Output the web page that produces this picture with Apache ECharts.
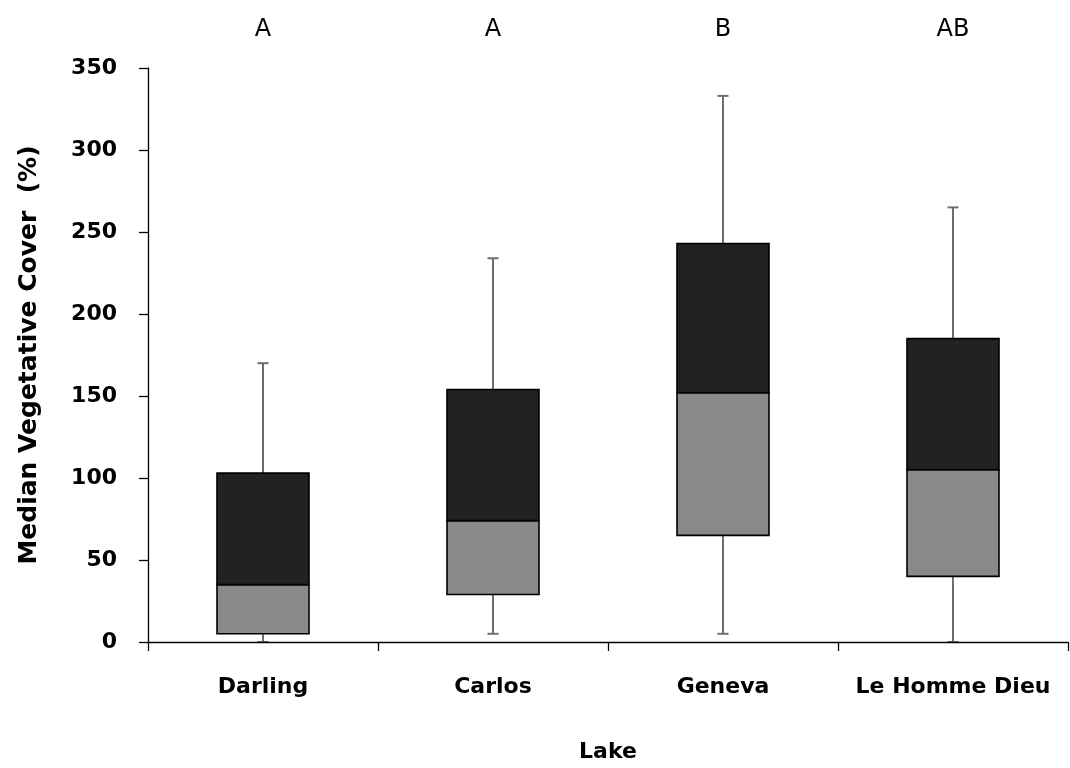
<!DOCTYPE html>
<html>
<head>
<meta charset="utf-8">
<script src="https://cdn.jsdelivr.net/npm/echarts@6/dist/echarts.min.js"></script>
<style>
html,body{margin:0;padding:0;background:#fff;}
#chart{width:1070px;height:768px;}
</style>
</head>
<body>
<div id="chart"></div>
<script>
const categories = ['Darling', 'Carlos', 'Geneva', 'Le Homme Dieu'];
const letters = ['A', 'A', 'B', 'AB'];
const minVals = [0, 5, 5, 0];
const q1Vals = [5, 29, 65, 40];
const medVals = [35, 74, 152, 105];
const q3Vals = [103, 154, 243, 185];
const maxVals = [170, 234, 333, 265];
const yTicks = [0, 50, 100, 150, 200, 250, 300, 350];

const FONT = 'DejaVu Sans';
const boxData = categories.map((c, i) => [i, minVals[i], q1Vals[i], medVals[i], q3Vals[i], maxVals[i]]);

const chart = echarts.init(document.getElementById('chart'), null, {renderer: 'canvas'});
chart.setOption({
  backgroundColor: '#ffffff',
  animation: false,
  grid: {left: 148, right: 2, top: 68, bottom: 121, containLabel: false},
  xAxis: [{
    type: 'category',
    data: categories,
    position: 'bottom',
    z: 5,
    boundaryGap: true,
    axisLine: {show: true, lineStyle: {color: '#000', width: 1.3}},
    axisTick: {show: true, interval: 0, length: 9, inside: false, lineStyle: {color: '#000', width: 1.3}},
    axisLabel: {interval: 0, margin: 34, color: '#000', fontFamily: FONT, fontWeight: 'bold', fontSize: 22},
    splitLine: {show: false},
    name: 'Lake',
    nameLocation: 'middle',
    nameGap: 99,
    nameTextStyle: {color: '#000', fontFamily: FONT, fontWeight: 'bold', fontSize: 22}
  }, {
    type: 'category',
    data: letters,
    position: 'top',
    boundaryGap: true,
    axisLine: {show: false},
    axisTick: {show: false},
    axisLabel: {interval: 0, margin: 26, color: '#000', fontFamily: FONT, fontSize: 24},
    splitLine: {show: false}
  }],
  yAxis: {
    type: 'value',
    min: yTicks[0],
    max: yTicks[yTicks.length - 1],
    interval: yTicks[1] - yTicks[0],
    z: 5,
    axisLine: {show: true, lineStyle: {color: '#000', width: 1.3}},
    axisTick: {show: true, length: 9, lineStyle: {color: '#000', width: 1.3}},
    axisLabel: {margin: 31, color: '#000', fontFamily: FONT, fontWeight: 'bold', fontSize: 22},
    splitLine: {show: false},
    name: 'Median Vegetative Cover  (%)',
    nameLocation: 'middle',
    nameGap: 106,
    nameRotate: 90,
    nameTextStyle: {color: '#000', fontFamily: FONT, fontWeight: 'bold', fontSize: 25}
  },
  series: [{
    type: 'custom',
    xAxisIndex: 0,
    yAxisIndex: 0,
    data: boxData,
    encode: {x: 0, y: [1, 2, 3, 4, 5]},
    renderItem: function (params, api) {
      const i = api.value(0);
      const pMin = api.coord([i, api.value(1)]);
      const pQ1 = api.coord([i, api.value(2)]);
      const pMed = api.coord([i, api.value(3)]);
      const pQ3 = api.coord([i, api.value(4)]);
      const pMax = api.coord([i, api.value(5)]);
      const bw = api.size([1, 0])[0] * 0.4;
      const cx = pMed[0];
      const cap = 5.5;
      const wStyle = {stroke: '#6e6e6e', lineWidth: 2};
      return {
        type: 'group',
        children: [
          {type: 'line', shape: {x1: cx, y1: pQ3[1], x2: cx, y2: pMax[1]}, style: wStyle},
          {type: 'line', shape: {x1: cx - cap, y1: pMax[1], x2: cx + cap, y2: pMax[1]}, style: wStyle},
          {type: 'line', shape: {x1: cx, y1: pQ1[1], x2: cx, y2: pMin[1]}, style: wStyle},
          {type: 'line', shape: {x1: cx - cap, y1: pMin[1], x2: cx + cap, y2: pMin[1]}, style: wStyle},
          {type: 'rect', shape: {x: cx - bw / 2, y: pMed[1], width: bw, height: pQ1[1] - pMed[1]},
            style: {fill: '#898989', stroke: '#000', lineWidth: 1.6}},
          {type: 'rect', shape: {x: cx - bw / 2, y: pQ3[1], width: bw, height: pMed[1] - pQ3[1]},
            style: {fill: '#222222', stroke: '#000', lineWidth: 1.6}}
        ]
      };
    }
  }]
});
</script>
</body>
</html>
